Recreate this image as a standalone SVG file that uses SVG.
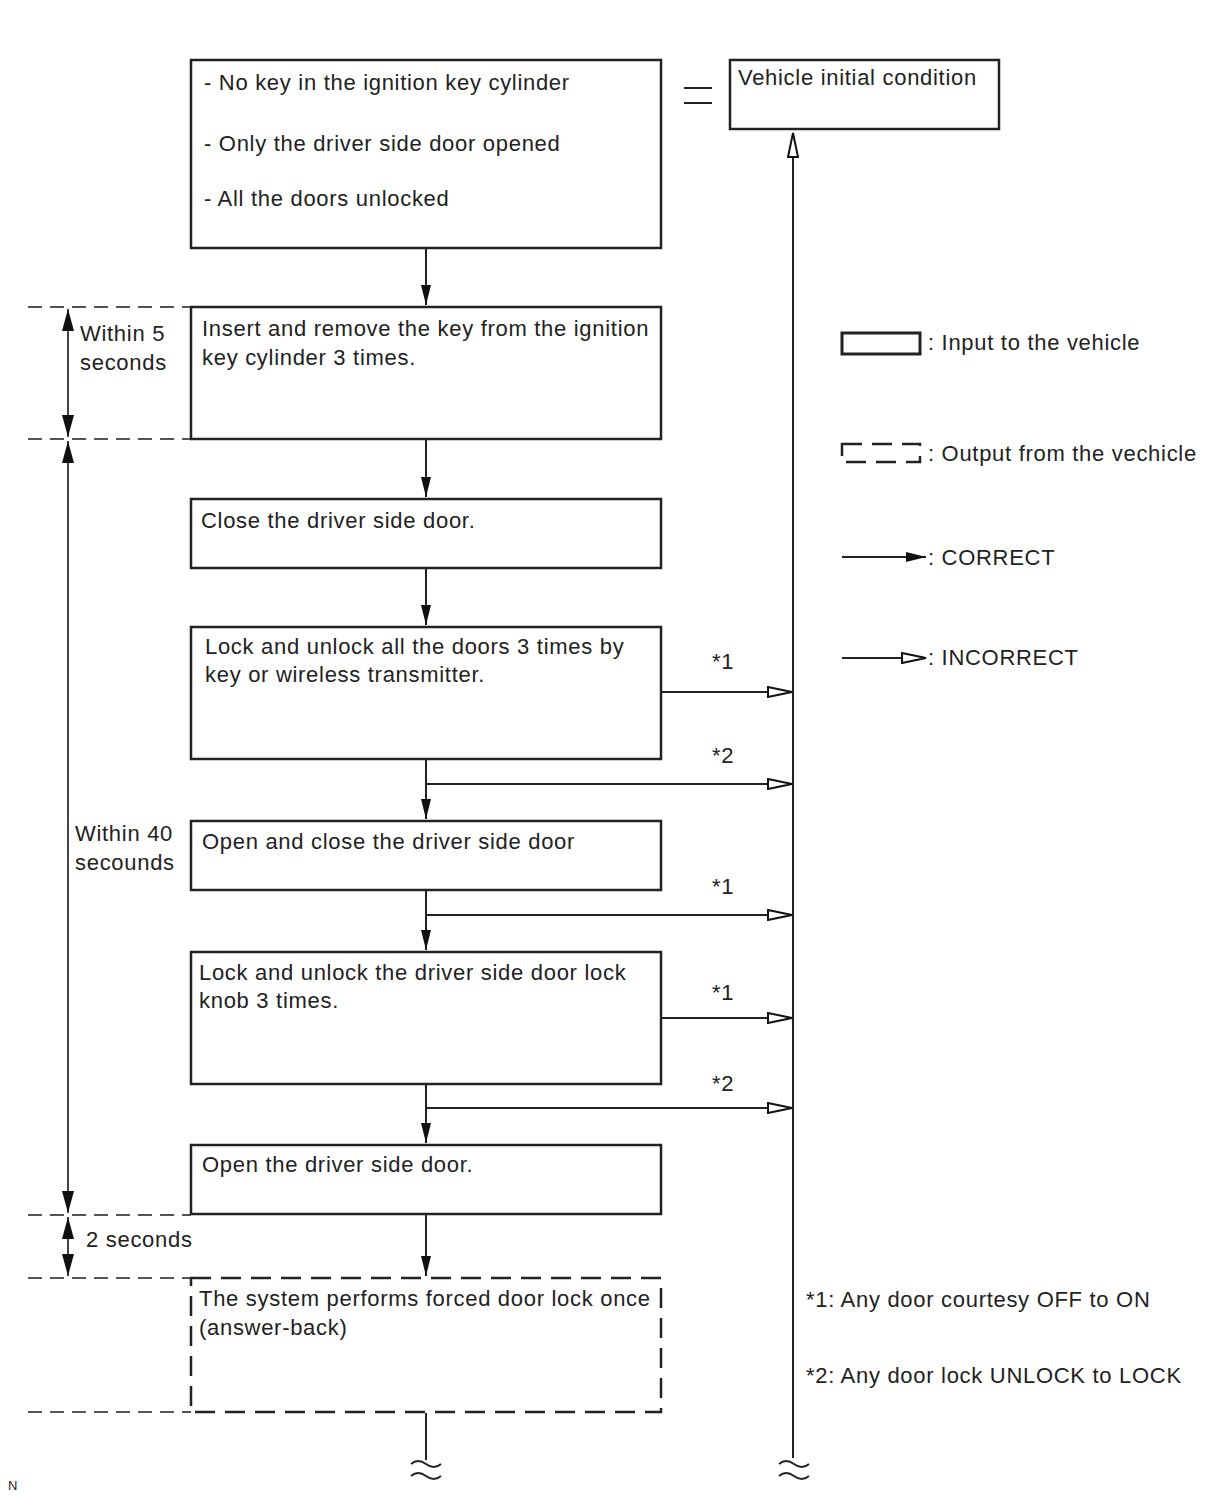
<svg xmlns="http://www.w3.org/2000/svg" width="1210" height="1498" viewBox="0 0 1210 1498">
<style>
text{font-family:"Liberation Sans",Arial,sans-serif;font-size:22px;letter-spacing:0.7px;fill:#222}
.box{fill:#fff;stroke:#222;stroke-width:2.5}
.dbox{fill:none;stroke:#222;stroke-width:2.5;stroke-dasharray:20 10}
.ln{fill:none;stroke:#222;stroke-width:2}
.dl{fill:none;stroke:#555;stroke-width:2;stroke-dasharray:14 8}
.dim{fill:none;stroke:#444;stroke-width:2}
</style>
<defs>
<marker id="fa" viewBox="0 0 20 10" refX="20" refY="5" markerWidth="20" markerHeight="10" markerUnits="userSpaceOnUse" orient="auto">
<path d="M0,0 L20,5 L0,10 Z" fill="#111"/>
</marker>
<marker id="oa" viewBox="0 0 26 12" refX="25" refY="6" markerWidth="26" markerHeight="12" markerUnits="userSpaceOnUse" orient="auto">
<path d="M1,1 L25,6 L1,11 Z" fill="#fff" stroke="#111" stroke-width="2"/>
</marker>
<marker id="da" viewBox="0 0 22 12" refX="22" refY="6" markerWidth="22" markerHeight="12" markerUnits="userSpaceOnUse" orient="auto">
<path d="M0,0 L22,6 L0,12 Z" fill="#111"/>
</marker>
</defs>

<g id="dimension-lines">
<path class="dl" d="M28,307 H191 M28,439 H191 M28,1215 H191 M28,1278 H191 M28,1412 H191"/>
<line class="dim" x1="68" y1="373" x2="68" y2="309" marker-end="url(#da)"/>
<line class="dim" x1="68" y1="373" x2="68" y2="437" marker-end="url(#da)"/>
<line class="dim" x1="68" y1="827" x2="68" y2="441" marker-end="url(#da)"/>
<line class="dim" x1="68" y1="827" x2="68" y2="1213" marker-end="url(#da)"/>
<line class="dim" x1="68" y1="1246" x2="68" y2="1217" marker-end="url(#da)"/>
<line class="dim" x1="68" y1="1246" x2="68" y2="1276" marker-end="url(#da)"/>
<text x="80" y="341">Within 5</text>
<text x="80" y="370">seconds</text>
<text x="75" y="841">Within 40</text>
<text x="75" y="870">secounds</text>
<text x="86" y="1247">2 seconds</text>
</g>

<g id="connectors">
<line class="ln" x1="426" y1="249" x2="426" y2="305" marker-end="url(#fa)"/>
<line class="ln" x1="426" y1="440" x2="426" y2="497" marker-end="url(#fa)"/>
<line class="ln" x1="426" y1="569" x2="426" y2="625" marker-end="url(#fa)"/>
<line class="ln" x1="426" y1="760" x2="426" y2="819" marker-end="url(#fa)"/>
<line class="ln" x1="426" y1="891" x2="426" y2="950" marker-end="url(#fa)"/>
<line class="ln" x1="426" y1="1085" x2="426" y2="1143" marker-end="url(#fa)"/>
<line class="ln" x1="426" y1="1215" x2="426" y2="1276" marker-end="url(#fa)"/>
<line class="ln" x1="426" y1="1413" x2="426" y2="1460"/>
<line class="ln" x1="793" y1="1458" x2="793" y2="133" marker-end="url(#oa)"/>
<line class="ln" x1="661" y1="692" x2="792" y2="692" marker-end="url(#oa)"/>
<line class="ln" x1="426" y1="784" x2="792" y2="784" marker-end="url(#oa)"/>
<line class="ln" x1="426" y1="915" x2="792" y2="915" marker-end="url(#oa)"/>
<line class="ln" x1="661" y1="1018" x2="792" y2="1018" marker-end="url(#oa)"/>
<line class="ln" x1="426" y1="1108" x2="792" y2="1108" marker-end="url(#oa)"/>
<text x="712" y="669">*1</text>
<text x="712" y="763">*2</text>
<text x="712" y="894">*1</text>
<text x="712" y="1000">*1</text>
<text x="712" y="1091">*2</text>
<path class="ln" d="M411,1464 q7,-6 15,0 t15,0 M411,1476 q7,-6 15,0 t15,0"/>
<path class="ln" d="M779,1464 q7,-6 15,0 t15,0 M779,1476 q7,-6 15,0 t15,0"/>
<path class="ln" d="M684,88 H712 M684,103 H712"/>
</g>

<g id="node-initial">
<rect class="box" x="191" y="60" width="470" height="188"/>
<text x="204" y="90">- No key in the ignition key cylinder</text>
<text x="204" y="151">- Only the driver side door opened</text>
<text x="204" y="206">- All the doors unlocked</text>
</g>
<g id="node-vehicle-initial">
<rect class="box" x="730" y="60" width="269" height="69"/>
<text x="738" y="85">Vehicle initial condition</text>
</g>
<g id="node-insert-key">
<rect class="box" x="191" y="307" width="470" height="132"/>
<text x="202" y="336">Insert and remove the key from the ignition</text>
<text x="202" y="365">key cylinder 3 times.</text>
</g>
<g id="node-close-door">
<rect class="box" x="191" y="499" width="470" height="69"/>
<text x="201" y="528">Close the driver side door.</text>
</g>
<g id="node-lock-all">
<rect class="box" x="191" y="627" width="470" height="132"/>
<text x="205" y="654">Lock and unlock all the doors 3 times by</text>
<text x="205" y="682">key or wireless transmitter.</text>
</g>
<g id="node-open-close">
<rect class="box" x="191" y="821" width="470" height="69"/>
<text x="202" y="849">Open and close the driver side door</text>
</g>
<g id="node-lock-knob">
<rect class="box" x="191" y="952" width="470" height="132"/>
<text x="199" y="980">Lock and unlock the driver side door lock</text>
<text x="199" y="1008">knob 3 times.</text>
</g>
<g id="node-open-door">
<rect class="box" x="191" y="1145" width="470" height="69"/>
<text x="202" y="1172">Open the driver side door.</text>
</g>
<g id="node-answer-back">
<rect class="dbox" x="191" y="1278" width="470" height="134"/>
<text x="199" y="1306">The system performs forced door lock once</text>
<text x="199" y="1335">(answer-back)</text>
</g>

<g id="legend">
<rect x="842" y="333" width="78" height="21" fill="#fff" stroke="#222" stroke-width="3"/>
<text x="928" y="350">: Input to the vehicle</text>
<rect x="842" y="444" width="78" height="18" fill="none" stroke="#222" stroke-width="2.5" stroke-dasharray="20 10"/>
<text x="928" y="461">: Output from the vechicle</text>
<line class="ln" x1="842" y1="557" x2="926" y2="557" marker-end="url(#fa)"/>
<text x="928" y="565">: CORRECT</text>
<line class="ln" x1="842" y1="658" x2="926" y2="658" marker-end="url(#oa)"/>
<text x="928" y="665">: INCORRECT</text>
<text x="806" y="1307">*1: Any door courtesy OFF to ON</text>
<text x="806" y="1383">*2: Any door lock UNLOCK to LOCK</text>
<text x="8" y="1490" style="font-size:13px;letter-spacing:0">N</text>
</g>
</svg>
